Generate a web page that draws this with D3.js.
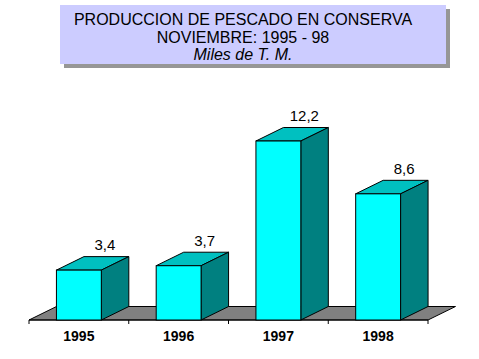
<!DOCTYPE html>
<html>
<head>
<meta charset="utf-8">
<script src="https://cdn.jsdelivr.net/npm/d3@7"></script>
<style>
html,body{margin:0;padding:0;background:#fff;}
svg{display:block;}
</style>
</head>
<body>
<svg id="chart" width="479" height="359"></svg>
<script>
const titleLines = ["PRODUCCION DE PESCADO EN CONSERVA", "NOVIEMBRE: 1995 - 98", "Miles de T. M."];
const years = ["1995", "1996", "1997", "1998"];
const values = [3.4, 3.7, 12.2, 8.6];
const valueLabels = ["3,4", "3,7", "12,2", "8,6"];

const svg = d3.select("#chart");
const font = "'Liberation Sans', Arial, sans-serif";

// Title box with shadow
const box = {x: 60, y: 5, w: 386, h: 59, sh: 4};
svg.append("rect").attr("x", box.x + box.sh).attr("y", box.y + box.sh)
  .attr("width", box.w).attr("height", box.h).attr("fill", "#969696");
svg.append("rect").attr("x", box.x).attr("y", box.y)
  .attr("width", box.w).attr("height", box.h).attr("fill", "#CCCCFF");
const titleY = [25, 42.5, 59.5];
svg.selectAll("text.title").data(titleLines).enter().append("text")
  .attr("class", "title")
  .attr("x", 243).attr("y", (d, i) => titleY[i])
  .attr("text-anchor", "middle")
  .attr("font-family", font).attr("font-size", 16)
  .attr("font-style", (d, i) => i === 2 ? "italic" : "normal")
  .attr("fill", "#000").text(d => d);

// Scales
const x = d3.scaleBand().domain(years).range([29, 428]).paddingInner(0.55).paddingOuter(0.275);
const y = d3.scaleLinear().domain([0, 14]).range([320, 114.6]);
const dx = 27.5, dy = 13.5;
const x0 = 29, x1 = 428, base = y(0);

// Floor
svg.append("polygon")
  .attr("points", [[x0, base], [x1, base], [x1 + dx, base - dy], [x0 + dx, base - dy]].map(p => p.join(",")).join(" "))
  .attr("fill", "#808080").attr("stroke", "#000").attr("stroke-width", 1);

// Axis
const axis = d3.axisBottom(x).tickSize(0).tickFormat("");
const axG = svg.append("g").attr("transform", `translate(0,${base})`).call(axis);
axG.select(".domain").attr("stroke", "#000").attr("d", `M${x0},0H${x1}`);
const bounds = [x0].concat(years.map(d => x(d) + x.bandwidth() + (x.step() - x.bandwidth()) / 2));
axG.selectAll("line.tk").data(bounds).enter().append("line").attr("class", "tk")
  .attr("x1", d => d).attr("x2", d => d).attr("y1", 0).attr("y2", 4)
  .attr("stroke", "#000");

// Bars
const bars = svg.selectAll("g.bar").data(years.map((d, i) => ({year: d, v: values[i], lab: valueLabels[i]})))
  .enter().append("g").attr("class", "bar");
bars.each(function(d) {
  const g = d3.select(this);
  const L = x(d.year), R = L + x.bandwidth(), T = y(d.v), B = base;
  const pts = a => a.map(p => p.join(",")).join(" ");
  g.append("polygon").attr("points", pts([[L, T], [R, T], [R + dx, T - dy], [L + dx, T - dy]]))
    .attr("fill", "#00C0C0").attr("stroke", "#000").attr("stroke-linejoin", "round");
  g.append("polygon").attr("points", pts([[R, T], [R + dx, T - dy], [R + dx, B - dy], [R, B]]))
    .attr("fill", "#008080").attr("stroke", "#000").attr("stroke-linejoin", "round");
  g.append("rect").attr("x", L).attr("y", T).attr("width", R - L).attr("height", B - T)
    .attr("fill", "#00FFFF").attr("stroke", "#000");
  g.append("text").attr("x", L + x.bandwidth() / 2 + 26).attr("y", T - dy - 6.5)
    .attr("text-anchor", "middle").attr("font-family", font).attr("font-size", 15)
    .attr("fill", "#000").text(d.lab);
});

// Year labels
svg.selectAll("text.year").data(years).enter().append("text").attr("class", "year")
  .attr("x", d => x(d) + x.bandwidth() / 2).attr("y", 341)
  .attr("text-anchor", "middle").attr("font-family", font).attr("font-size", 14)
  .attr("font-weight", "bold").attr("fill", "#000").text(d => d);
</script>
</body>
</html>
